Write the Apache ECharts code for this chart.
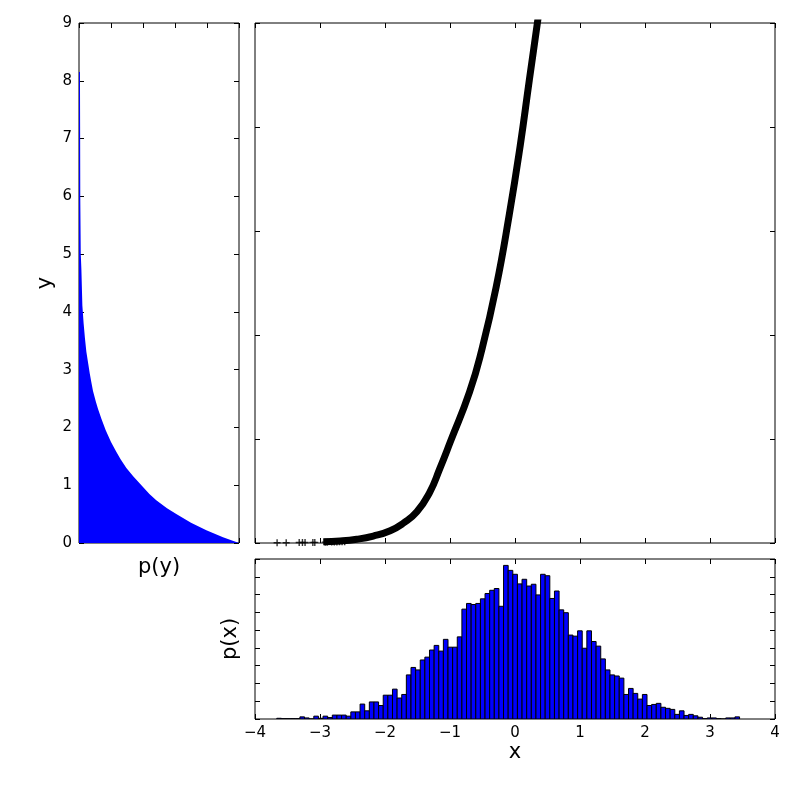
<!DOCTYPE html>
<html><head><meta charset="utf-8">
<script src="https://cdn.jsdelivr.net/npm/echarts@6/dist/echarts.min.js"></script>
<style>html,body{margin:0;padding:0;background:#fff}#c{width:800px;height:800px}</style>
</head><body><div id="c"></div>
<script>
// ---- data ----
const xTicks = [-4, -3, -2, -1, 0, 1, 2, 3, 4];
const yTicksLeft = [0, 1, 2, 3, 4, 5, 6, 7, 8, 9];

// p(y) curve (left panel): y value and relative density
const pyY = [0, 0.1, 0.22, 0.35, 0.5, 0.6, 0.74, 0.85, 1.0, 1.15, 1.3, 1.45, 1.58, 1.75, 1.95, 2.15, 2.32, 2.45, 2.63, 2.8, 2.94, 3.1, 3.31, 3.55, 3.8, 4.11, 4.73, 5.0, 5.97, 7.2, 8.15];
const pyP = [1.0, 0.9, 0.796, 0.70, 0.608, 0.55, 0.483, 0.44, 0.39, 0.34, 0.296, 0.26, 0.233, 0.2, 0.167, 0.14, 0.119, 0.105, 0.0875, 0.076, 0.067, 0.058, 0.046, 0.037, 0.029, 0.021, 0.015, 0.011, 0.008, 0.007, 0.006];

// main scatter band
const curveX = [-2.95, -2.69, -2.435, -2.18, -1.92, -1.72, -1.51, -1.31, -1.16, -0.99, -0.70, -0.51, -0.29, -0.09, 0.08, 0.22, 0.34, 0.40];
const curveY = [0.0125, 0.019, 0.036, 0.067, 0.118, 0.19, 0.30, 0.49, 0.71, 0.98, 1.45, 1.86, 2.46, 3.15, 3.82, 4.45, 4.98, 5.25];
// sparse markers in the lower tail
const tailX = [-3.66, -3.52, -3.32, -3.27, -3.23, -3.11, -3.08, -2.92, -2.89, -2.82, -2.78, -2.74, -2.70, -2.66, -2.62];
const tailY = [0.003, 0.003, 0.005, 0.005, 0.005, 0.006, 0.006, 0.008, 0.008, 0.009, 0.01, 0.01, 0.012, 0.012, 0.013];

// histogram p(x)
const binStart = -3.665;
const binWidth = 0.0712;
const histDensity = [
0.002, 0.001, 0.001, 0.001, 0.001, 0.006, 0.003, 0.000, 0.008, 0.002,
0.008, 0.004, 0.011, 0.011, 0.011, 0.008, 0.020, 0.020, 0.042, 0.023,
0.048, 0.048, 0.038, 0.067, 0.067, 0.084, 0.059, 0.069, 0.124, 0.145,
0.138, 0.166, 0.174, 0.194, 0.207, 0.191, 0.224, 0.202, 0.202, 0.231,
0.309, 0.325, 0.322, 0.325, 0.338, 0.353, 0.362, 0.367, 0.317,
0.432, 0.418, 0.407, 0.380, 0.393, 0.374, 0.379, 0.349, 0.407, 0.403,
0.339, 0.360, 0.307, 0.299, 0.236, 0.233, 0.248, 0.199, 0.248, 0.218,
0.205, 0.169, 0.138, 0.124, 0.121, 0.115, 0.069, 0.086, 0.072, 0.056,
0.069, 0.038, 0.041, 0.044, 0.033, 0.030, 0.027, 0.013, 0.023, 0.010,
0.013, 0.009, 0.005, 0.001, 0.003, 0.003, 0.001, 0.000, 0.003, 0.003,
0.006];

// ---- chart ----
const FONT = 'DejaVu Sans';
const TICK = {show: true, inside: true, length: 5, lineStyle: {color: '#000', width: 1}};
const LBL = {fontFamily: FONT, fontSize: 15, color: '#000'};
const fmtMinus = v => String(v).replace('-', '\u2212');

function ax(grid, min, max, interval, pos, label, extra) {
  return Object.assign({
    type: 'value', gridIndex: grid, min: min, max: max, interval: interval, position: pos,
    axisLine: {show: false, onZero: false}, axisTick: TICK, splitLine: {show: false},
    axisLabel: label ? Object.assign({show: true, margin: 7, formatter: fmtMinus}, LBL) : {show: false}
  }, extra || {});
}
const NAME = {fontFamily: FONT, fontSize: 21, color: '#000'};

const chart = echarts.init(document.getElementById('c'), null, {renderer: 'canvas'});
const histData = histDensity.map((h, i) => [binStart + i * binWidth, binStart + (i + 1) * binWidth, h]);
const pyData = pyP.map((p, i) => [p, pyY[i]]);

chart.setOption({
  animation: false,
  backgroundColor: '#fff',
  grid: [
    {left: 79, top: 23, width: 160, height: 520, show: true, borderColor: '#000', borderWidth: 1, backgroundColor: 'transparent'},
    {left: 255, top: 23, width: 520, height: 520, show: true, borderColor: '#000', borderWidth: 1, backgroundColor: 'transparent'},
    {left: 255, top: 559, width: 520, height: 160, show: true, borderColor: '#000', borderWidth: 1, backgroundColor: 'transparent'}
  ],
  xAxis: [
    ax(0, 0, 1, 0.2, 'bottom', false, {name: 'p(y)', nameLocation: 'middle', nameGap: 14, nameTextStyle: NAME}),
    ax(0, 0, 1, 0.2, 'top', false),
    ax(1, -4, 4, 1, 'bottom', false),
    ax(1, -4, 4, 1, 'top', false),
    ax(2, -4, 4, 1, 'bottom', true, {name: 'x', nameLocation: 'middle', nameGap: 20, nameTextStyle: NAME}),
    ax(2, -4, 4, 1, 'top', false)
  ],
  yAxis: [
    ax(0, 0, 9, 1, 'left', true, {name: 'y', nameLocation: 'middle', nameGap: 23, nameTextStyle: NAME}),
    ax(0, 0, 9, 1, 'right', false),
    ax(1, 0, 5, 1, 'left', false),
    ax(1, 0, 5, 1, 'right', false),
    ax(2, 0, 0.45, 0.05, 'left', false, {name: 'p(x)', nameLocation: 'middle', nameGap: 14, nameTextStyle: NAME}),
    ax(2, 0, 0.45, 0.05, 'right', false)
  ],
  series: [
    {
      type: 'custom', xAxisIndex: 0, yAxisIndex: 0, clip: true,
      data: pyData,
      encode: {x: 0, y: 1},
      renderItem: function (params, api) {
        if (params.dataIndex !== 0) return null;
        const pts = [api.coord([0, pyY[0]])];
        for (let i = 0; i < pyY.length; i++) pts.push(api.coord([pyP[i], pyY[i]]));
        pts.push(api.coord([0, pyY[pyY.length - 1]]));
        return {type: 'polygon', shape: {points: pts}, style: {fill: '#0000ff', stroke: null}};
      }
    },
    {
      type: 'line', xAxisIndex: 2, yAxisIndex: 2, clip: true,
      data: curveX.map((x, i) => [x, curveY[i]]),
      smooth: 0.5, showSymbol: false, symbol: 'none',
      lineStyle: {color: '#000', width: 7}
    },
    {
      type: 'scatter', xAxisIndex: 2, yAxisIndex: 2, clip: true,
      data: tailX.map((x, i) => [x, tailY[i]]),
      symbol: 'path://M4,0H6V4H10V6H6V10H4V6H0V4H4Z', symbolSize: 7,
      itemStyle: {color: '#000'}
    },
    {
      type: 'custom', xAxisIndex: 4, yAxisIndex: 4, clip: true,
      data: histData,
      encode: {x: [0, 1], y: 2},
      renderItem: function (params, api) {
        const p0 = api.coord([api.value(0), api.value(2)]);
        const p1 = api.coord([api.value(1), 0]);
        return {type: 'rect', shape: {x: p0[0], y: p0[1], width: p1[0] - p0[0], height: p1[1] - p0[1]},
                style: {fill: '#0000ff', stroke: '#000', lineWidth: 1}};
      }
    }
  ]
});
</script></body></html>
